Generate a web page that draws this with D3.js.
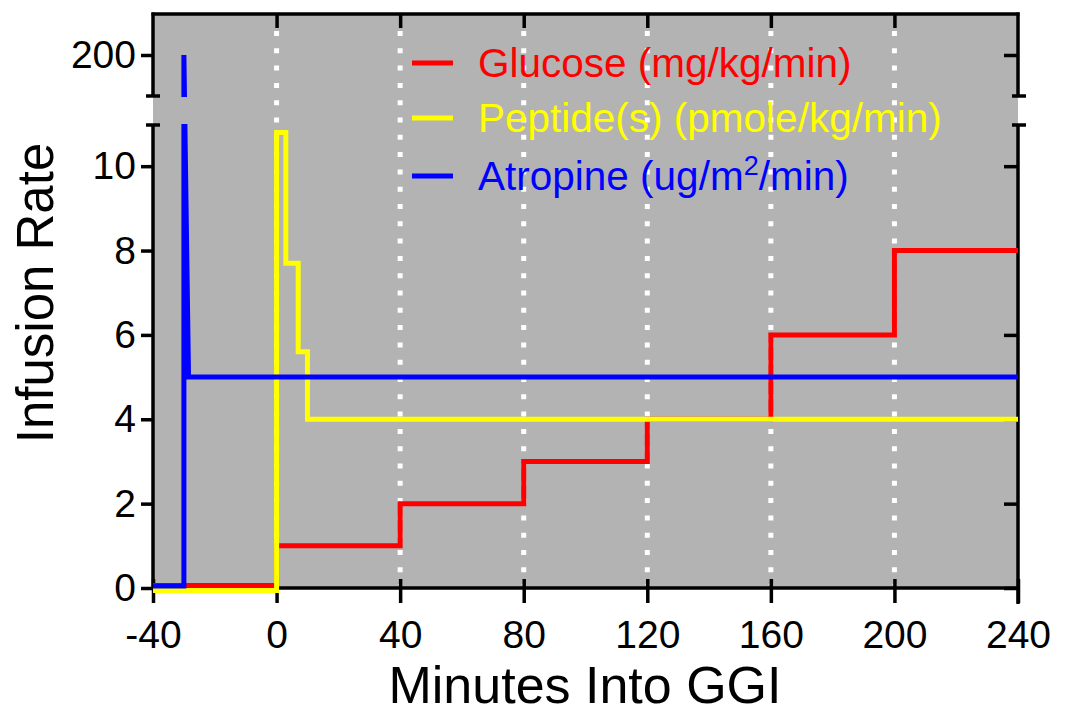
<!DOCTYPE html>
<html>
<head>
<meta charset="utf-8">
<script src="https://cdn.jsdelivr.net/npm/d3@7"></script>
<style>
  body { margin: 0; background: #fff; }
  text { font-family: "Liberation Sans", Arial, Helvetica, sans-serif; }
</style>
</head>
<body>
<div id="chart"></div>
<script>
// data (minutes into GGI, infusion rate)
const glucoseTimes  = [-40, 0, 40, 80, 120, 160, 200, 240];
const glucoseValues = [0.06, 1, 2, 3, 4, 6, 8, 8];

const peptideTimes  = [-40, 0, 3, 7, 10, 240];
const peptideValues = [-0.06, 10.8, 7.7, 5.6, 4, 4];

// atropine bolus goes up into the upper (broken) panel
const atropineTimes  = [-40, -30, -30, -28.5, 240];
const atropineValues = [0.05, 0.05, 200, 5, 5];

const xTicks = [-40, 0, 40, 80, 120, 160, 200, 240];
const gridTicks = [0, 40, 80, 120, 160, 200];
const yTicksLow = [0, 2, 4, 6, 8, 10];
const yTicksHigh = [200];

const legendLabels = ["Glucose (mg/kg/min)", "Peptide(s) (pmole/kg/min)", "Atropine (ug/m"];
const legendColors = ["#ff0000", "#ffff00", "#0000ff"];

// layout (note: "top" is reserved on window, so plotTop etc.)
var W = 1070, H = 708;
var plotLeft = 153, plotRight = 1018, plotTop = 14, plotBottom = 588;
var breakTop = 96, breakBottom = 125;

var x = d3.scaleLinear().domain([-40, 240]).range([plotLeft, plotRight]);
var yLow = d3.scaleLinear().domain([0, 11]).range([plotBottom, 124]);
var yHigh = d3.scaleLinear().domain([190, 210]).range([breakTop, plotTop]);

// piecewise y for the broken axis
function y(v) {
  return v > 100 ? yHigh(v) : yLow(v);
}

var svg = d3.select("#chart").append("svg")
  .attr("width", W)
  .attr("height", H);

// gray plot background
svg.append("rect")
  .attr("x", plotLeft).attr("y", plotTop)
  .attr("width", plotRight - plotLeft).attr("height", plotBottom - plotTop)
  .attr("fill", "#b3b3b3");

// white dotted grid lines
svg.append("g").selectAll("line")
  .data(gridTicks)
  .enter().append("line")
  .attr("x1", d => x(d)).attr("x2", d => x(d))
  .attr("y1", 31).attr("y2", 585)
  .attr("stroke", "#fff")
  .attr("stroke-width", 5)
  .attr("stroke-dasharray", "5,12.3");

var fontSize = 39;
var plainFormat = d => String(d);   // hyphen minus, like the original

// left axis (labels)
var gLeft = svg.append("g").attr("transform", "translate(" + plotLeft + ",0)");
gLeft.append("g").call(d3.axisLeft(yLow).tickValues(yTicksLow).tickSize(12).tickPadding(5).tickFormat(plainFormat));
gLeft.append("g").call(d3.axisLeft(yHigh).tickValues(yTicksHigh).tickSize(12).tickPadding(5).tickFormat(plainFormat));

// right axis (inward ticks, no labels)
var gRight = svg.append("g").attr("transform", "translate(" + plotRight + ",0)");
gRight.append("g").call(d3.axisLeft(yLow).tickValues(yTicksLow).tickSize(14).tickFormat(""));
gRight.append("g").call(d3.axisLeft(yHigh).tickValues(yTicksHigh).tickSize(14).tickFormat(""));

// bottom axis
var gBottom = svg.append("g")
  .attr("transform", "translate(0," + plotBottom + ")")
  .call(d3.axisBottom(x).tickValues(xTicks).tickSize(15).tickPadding(17).tickFormat(plainFormat));
gBottom.selectAll(".tick line").attr("y1", -9);

// top axis (inward ticks)
svg.append("g")
  .attr("transform", "translate(0," + plotTop + ")")
  .call(d3.axisBottom(x).tickValues(gridTicks).tickSize(14).tickFormat(""));

svg.selectAll(".domain").remove();
svg.selectAll(".tick line").attr("stroke", "#000").attr("stroke-width", 3.5);
svg.selectAll(".tick text")
  .attr("fill", "#000")
  .style("font-size", fontSize + "px")
  .style("font-family", "'Liberation Sans', Arial, Helvetica, sans-serif");

// axis frame with the break
var frame = [
  [plotLeft, plotTop - 1.5, plotLeft, breakTop],
  [plotLeft, breakBottom, plotLeft, plotBottom + 2],
  [plotRight, plotTop - 1.5, plotRight, breakTop],
  [plotRight, breakBottom, plotRight, plotBottom + 16],
  [plotLeft - 1.5, plotTop, plotRight + 1.5, plotTop],
  [plotLeft, plotBottom, plotRight, plotBottom],
  // break marks
  [plotLeft - 7, breakTop, plotLeft + 7, breakTop],
  [plotLeft - 7, breakBottom, plotLeft + 7, breakBottom],
  [plotRight - 6, breakTop, plotRight + 8, breakTop],
  [plotRight - 6, breakBottom, plotRight + 8, breakBottom]
];
svg.append("g").selectAll("line")
  .data(frame)
  .enter().append("line")
  .attr("x1", d => d[0]).attr("y1", d => d[1])
  .attr("x2", d => d[2]).attr("y2", d => d[3])
  .attr("stroke", "#000")
  .attr("stroke-width", 3.5);

// clip data lines to the two panels
var clip = svg.append("clipPath").attr("id", "panels");
clip.append("rect").attr("x", plotLeft - 5).attr("y", plotTop).attr("width", plotRight - plotLeft + 10).attr("height", breakTop - plotTop + 1);
clip.append("rect").attr("x", plotLeft - 5).attr("y", breakBottom - 1).attr("width", plotRight - plotLeft + 10).attr("height", plotBottom - breakBottom + 12);

var stepLine = d3.line()
  .x(d => x(d[0]))
  .y(d => y(d[1]))
  .curve(d3.curveStepAfter);

var plainLine = d3.line()
  .x(d => x(d[0]))
  .y(d => y(d[1]));

var gLines = svg.append("g").attr("clip-path", "url(#panels)");

function drawSeries(times, values, color, gen) {
  let pts = times.map((t, i) => [t, values[i]]);
  gLines.append("path")
    .attr("d", gen(pts))
    .attr("fill", "none")
    .attr("stroke", color)
    .attr("stroke-width", 5)
    .attr("stroke-linejoin", "miter");
}

// order: red under yellow under blue
drawSeries(glucoseTimes, glucoseValues, legendColors[0], stepLine);
drawSeries(peptideTimes, peptideValues, legendColors[1], stepLine);
drawSeries(atropineTimes, atropineValues, legendColors[2], plainLine);

// legend
var legendY = [63, 118, 176];
var legend = svg.append("g");
legendLabels.forEach((label, i) => {
  legend.append("line")
    .attr("x1", 412).attr("x2", 453)
    .attr("y1", legendY[i]).attr("y2", legendY[i])
    .attr("stroke", legendColors[i])
    .attr("stroke-width", 5);
  let t = legend.append("text")
    .attr("x", 478)
    .attr("y", legendY[i] + 14)
    .attr("fill", legendColors[i])
    .style("font-size", "40.5px")
    .text(label);
  if (i == 2) {
    t.append("tspan").attr("dy", -15).style("font-size", "27px").text("2");
    t.append("tspan").attr("dy", 15).text("/min)");
  }
});

// axis titles
svg.append("text")
  .attr("x", 585).attr("y", 703)
  .attr("text-anchor", "middle")
  .style("font-size", "52px")
  .text("Minutes Into GGI");

svg.append("text")
  .attr("transform", "translate(53,293) rotate(-90)")
  .attr("text-anchor", "middle")
  .style("font-size", "51px")
  .text("Infusion Rate");
</script>
</body>
</html>
